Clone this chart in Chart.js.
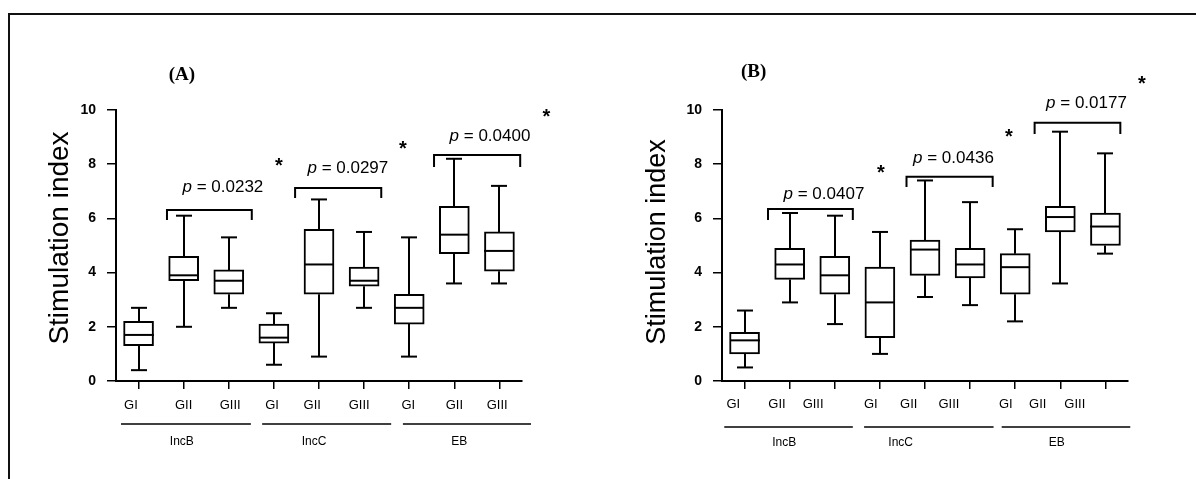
<!DOCTYPE html>
<html>
<head>
<meta charset="utf-8">
<script src="https://cdn.jsdelivr.net/npm/chart.js@4.4.1/dist/chart.umd.min.js"></script>
<style>
  html,body{margin:0;padding:0;background:#fff;overflow:hidden;width:1196px;height:479px;}
  #frame{position:absolute;left:8px;top:13px;width:1200px;height:500px;border-top:2px solid #111;border-left:2px solid #111;}
  canvas{position:absolute;left:0;top:0;}
</style>
</head>
<body>
<div id="frame"></div>
<canvas id="cA" width="1196" height="479"></canvas>
<canvas id="cB" width="1196" height="479"></canvas>
<script>
// ---------- data ----------
const categories = ['GI','GII','GIII','GI','GII','GIII','GI','GII','GIII'];
const groups = ['IncB','IncC','EB'];
const yTicks = [0,2,4,6,8,10];
const yTitle = 'Stimulation index';

// Panel (A)
const aMin = [0.4, 2.0, 2.7, 0.6, 0.9, 2.7, 0.9, 3.6, 3.6];
const aQ1  = [1.3, 3.7, 3.2, 1.4, 3.2, 3.5, 2.1, 4.7, 4.05];
const aMed = [1.7, 3.9, 3.7, 1.6, 4.3, 3.7, 2.7, 5.4, 4.8];
const aQ3  = [2.2, 4.6, 4.1, 2.1, 5.6, 4.2, 3.2, 6.45, 5.5];
const aMax = [2.7, 6.1, 5.3, 2.5, 6.7, 5.5, 5.3, 8.2, 7.2];
const aP   = ['0.0232','0.0297','0.0400'];

// Panel (B)
const bMin = [0.5, 2.9, 2.1, 1.0, 3.1, 2.8, 2.2, 3.6, 4.7];
const bQ1  = [1.0, 3.75, 3.2, 1.6, 3.9, 3.8, 3.2, 5.5, 5.0];
const bMed = [1.5, 4.3, 3.9, 2.9, 4.85, 4.3, 4.2, 6.05, 5.7];
const bQ3  = [1.8, 4.9, 4.6, 4.2, 5.2, 4.9, 4.7, 6.45, 6.2];
const bMax = [2.6, 6.2, 6.1, 5.5, 7.4, 6.6, 5.6, 9.2, 8.4];
const bP   = ['0.0407','0.0436','0.0177'];

const SANS = '"Liberation Sans", Arial, Helvetica, sans-serif';

// ---------- plugins ----------
const boxPlugin = {
  id: 'boxext',
  afterDatasetsDraw(chart, args, o) {
    const {ctx} = chart, x = chart.scales.x, y = chart.scales.y, s = o.stats;
    ctx.save();
    ctx.strokeStyle = '#000'; ctx.lineWidth = 2;
    const line = (x1,y1,x2,y2)=>{ctx.beginPath();ctx.moveTo(x1,y1);ctx.lineTo(x2,y2);ctx.stroke();};
    for (let i = 0; i < s.min.length; i++) {
      const cx = Math.round(x.getPixelForValue(i));
      const yMax = y.getPixelForValue(s.max[i]), yMin = y.getPixelForValue(s.min[i]);
      line(cx, y.getPixelForValue(s.q3[i]), cx, yMax);
      line(cx, y.getPixelForValue(s.q1[i]), cx, yMin);
      line(cx - o.cap, yMax, cx + o.cap, yMax);
      line(cx - o.cap, yMin, cx + o.cap, yMin);
      const ym = y.getPixelForValue(s.med[i]);
      line(cx - o.half, ym, cx + o.half, ym);
    }
    ctx.restore();
  }
};

const annotPlugin = {
  id: 'annot',
  afterDraw(chart, args, o) {
    const {ctx, chartArea} = chart, x = chart.scales.x, y = chart.scales.y;
    const px = v => x.getPixelForValue(v), py = v => y.getPixelForValue(v);
    ctx.save();
    ctx.fillStyle = '#000'; ctx.strokeStyle = '#000';
    // panel title
    ctx.font = 'bold 19px "Liberation Serif", "Times New Roman", serif';
    ctx.textAlign = 'center'; ctx.textBaseline = 'middle';
    ctx.fillText(o.title.text, px(o.title.x), py(o.title.y));
    // y axis title
    ctx.save();
    ctx.translate(chartArea.left + o.yTitle.dx, o.yTitle.cy);
    ctx.rotate(-Math.PI/2);
    ctx.font = o.yTitle.size + 'px ' + SANS;
    ctx.textAlign = 'center'; ctx.textBaseline = 'middle';
    ctx.fillText(yTitle, 0, 0);
    ctx.restore();
    // brackets + p values
    ctx.lineWidth = 2;
    o.brackets.forEach((b, k) => {
      const x1 = px(b.x1), x2 = px(b.x2), yt = py(b.top), yb = py(b.bottom);
      ctx.beginPath();
      ctx.moveTo(x1, yb); ctx.lineTo(x1, yt); ctx.lineTo(x2, yt); ctx.lineTo(x2, yb);
      ctx.stroke();
      const fs = 17;
      const fi = 'italic ' + fs + 'px ' + SANS, fn = fs + 'px ' + SANS;
      const rest = ' = ' + o.pvals[k];
      ctx.font = fi; const w1 = ctx.measureText('p').width;
      ctx.font = fn; const w2 = ctx.measureText(rest).width;
      const sx = px(b.tx) - (w1 + w2)/2, base = py(b.ty) + 6.5;
      ctx.textAlign = 'left'; ctx.textBaseline = 'alphabetic';
      ctx.font = fi; ctx.fillText('p', sx, base);
      ctx.font = fn; ctx.fillText(rest, sx + w1, base);
    });
    // stars
    ctx.font = 'bold 20px ' + SANS;
    ctx.textAlign = 'center'; ctx.textBaseline = 'alphabetic';
    o.stars.forEach(s => ctx.fillText('*', px(s.x), py(s.y) + 11.5));
    // category labels
    ctx.font = '13px ' + SANS;
    ctx.textAlign = 'center'; ctx.textBaseline = 'middle';
    categories.forEach((c, i) => ctx.fillText(c, px(o.catPos[i]), o.catY));
    // group underlines + labels
    ctx.lineWidth = 1.5;
    o.groupLines.forEach((g, i) => {
      ctx.beginPath(); ctx.moveTo(px(g[0]), o.lineY); ctx.lineTo(px(g[1]), o.lineY); ctx.stroke();
      ctx.font = '12px ' + SANS;
      ctx.fillText(groups[i], px(o.groupPos[i]), o.groupY);
    });
    ctx.restore();
  }
};

function makePanel(id, st, pvals, lay, ann) {
  return new Chart(document.getElementById(id), {
    type: 'bar',
    data: {
      labels: categories,
      datasets: [{
        data: st.q1.map((v, i) => [v, st.q3[i]]),
        backgroundColor: '#fff',
        borderColor: '#000',
        borderWidth: 2,
        borderSkipped: false,
        barThickness: 30
      }]
    },
    options: {
      responsive: false,
      animation: false,
      devicePixelRatio: 1,
      layout: { padding: lay },
      plugins: {
        legend: { display: false },
        tooltip: { enabled: false },
        boxext: { stats: st, cap: 8, half: 15 },
        annot: Object.assign({ pvals }, ann)
      },
      scales: {
        x: {
          offset: true,
          grid: { offset: false, drawOnChartArea: false, drawTicks: true, tickLength: 8, color: '#000', lineWidth: 1.5 },
          border: { display: true, color: '#000', width: 2 },
          ticks: { display: false },
          afterFit(s) { s.height = 40; }
        },
        y: {
          min: 0, max: 10,
          afterBuildTicks(s) { s.ticks = yTicks.map(v => ({ value: v })); },
          grid: { drawOnChartArea: false, drawTicks: true, tickLength: 9, color: '#000', lineWidth: 1.5 },
          border: { display: true, color: '#000', width: 2 },
          ticks: { color: '#000', padding: 11, font: { family: SANS, size: 14, weight: 'bold' } },
          afterFit(s) { s.width = 60; }
        }
      }
    },
    plugins: [boxPlugin, annotPlugin]
  });
}

makePanel('cA',
  { min: aMin, q1: aQ1, med: aMed, q3: aQ3, max: aMax }, aP,
  { left: 56, right: 674, top: 110, bottom: 58 },
  {
    title: { text: '(A)', x: 0.96, y: 11.29 },
    yTitle: { dx: -56, cy: 238, size: 28 },
    brackets: [
      { x1: 0.63, x2: 2.51, top: 6.31, bottom: 5.94, tx: 1.87, ty: 7.23 },
      { x1: 3.47, x2: 5.38, top: 7.12, bottom: 6.75, tx: 4.64, ty: 7.90 },
      { x1: 6.55, x2: 8.46, top: 8.34, bottom: 7.90, tx: 7.79, ty: 9.08 }
    ],
    stars: [ { x: 3.11, y: 8.12 }, { x: 5.86, y: 8.78 }, { x: 9.04, y: 9.96 } ],
    catPos: [-0.17, 1.0, 2.03, 2.96, 3.85, 4.89, 5.98, 7.0, 7.95],
    catY: 405,
    groupLines: [[-0.39, 2.49], [2.74, 5.6], [5.86, 8.7]],
    lineY: 424,
    groupPos: [0.96, 3.89, 7.11],
    groupY: 442
  });

makePanel('cB',
  { min: bMin, q1: bQ1, med: bMed, q3: bQ3, max: bMax }, bP,
  { left: 662, right: 68, top: 110, bottom: 58 },
  {
    title: { text: '(B)', x: 0.2, y: 11.4 },
    yTitle: { dx: -64, cy: 242, size: 27 },
    brackets: [
      { x1: 0.52, x2: 2.40, top: 6.35, bottom: 5.94, tx: 1.76, ty: 6.94 },
      { x1: 3.59, x2: 5.50, top: 7.54, bottom: 7.16, tx: 4.63, ty: 8.27 },
      { x1: 6.43, x2: 8.33, top: 9.53, bottom: 9.11, tx: 7.58, ty: 10.30 }
    ],
    stars: [ { x: 3.02, y: 7.86 }, { x: 5.86, y: 9.19 }, { x: 8.81, y: 11.18 } ],
    catPos: [-0.25, 0.72, 1.52, 2.80, 3.64, 4.53, 5.79, 6.50, 7.32],
    catY: 404,
    groupLines: [[-0.45, 2.40], [2.65, 5.52], [5.70, 8.55]],
    lineY: 427,
    groupPos: [0.88, 3.46, 6.92],
    groupY: 443
  });
</script>
</body>
</html>
